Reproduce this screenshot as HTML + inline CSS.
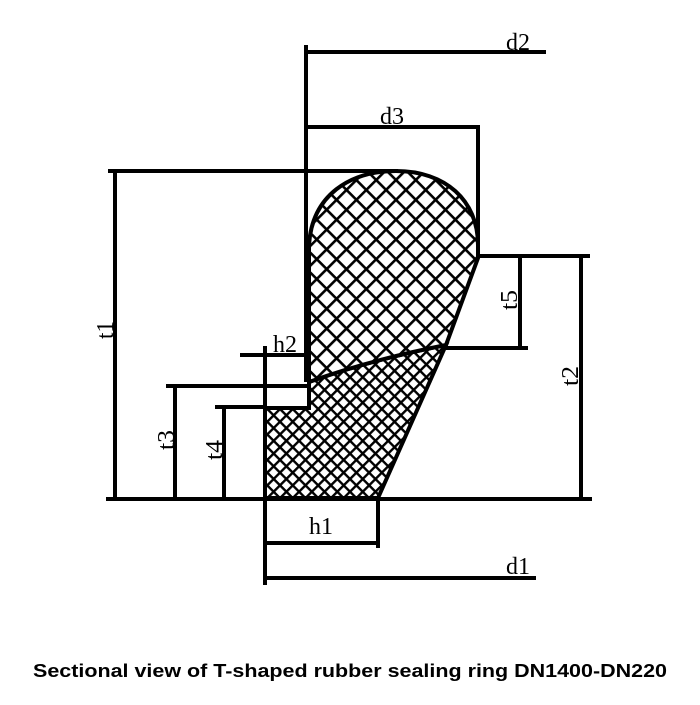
<!DOCTYPE html>
<html><head><style>
body{margin:0;background:#fff;width:700px;height:700px;overflow:hidden}
text{font-family:"Liberation Serif",serif;font-size:24px;fill:#000}
</style></head><body>
<svg width="700" height="700" viewBox="0 0 700 700">
<defs>
<pattern id="p1" width="14" height="14" patternUnits="userSpaceOnUse" patternTransform="rotate(45)">
<rect width="14" height="14" fill="#fff"/><rect x="0" y="0" width="14" height="2.6" fill="#000"/><rect x="0" y="0" width="2.6" height="14" fill="#000"/></pattern>
<pattern id="p2" width="9" height="9" patternUnits="userSpaceOnUse" patternTransform="rotate(45)">
<rect width="9" height="9" fill="#fff"/><rect x="0" y="0" width="9" height="2.4" fill="#000"/><rect x="0" y="0" width="2.4" height="9" fill="#000"/></pattern>
</defs>
<g stroke="#000" stroke-width="4" fill="none">
<path d="M265,498 L265,408 L309,408 L309,382 Q370,360 446,345 L378,498 Z" fill="url(#p2)"/>
<path d="M309,382 L309,245 C312,195 350,171 396,171 C445,171 478,200 478,245 L478,258 L446,345 Q370,360 309,382 Z" fill="url(#p1)"/>
<line x1="306" y1="45" x2="306" y2="382"/>
<line x1="108" y1="171" x2="398" y2="171"/>
<line x1="106" y1="499" x2="592" y2="499"/>
<line x1="306" y1="52" x2="546" y2="52"/>
<line x1="306" y1="127" x2="480" y2="127"/>
<line x1="478" y1="127" x2="478" y2="256"/>
<line x1="115" y1="171" x2="115" y2="499"/>
<line x1="478" y1="256" x2="590" y2="256"/>
<line x1="581" y1="256" x2="581" y2="499"/>
<line x1="446" y1="348" x2="528" y2="348"/>
<line x1="520" y1="256" x2="520" y2="348"/>
<line x1="240" y1="355" x2="309" y2="355"/>
<line x1="265" y1="346" x2="265" y2="585"/>
<line x1="166" y1="386" x2="309" y2="386"/>
<line x1="175" y1="386" x2="175" y2="499"/>
<line x1="215" y1="407" x2="265" y2="407"/>
<line x1="224" y1="407" x2="224" y2="499"/>
<line x1="378" y1="499" x2="378" y2="548"/>
<line x1="265" y1="543" x2="380" y2="543"/>
<line x1="265" y1="578" x2="536" y2="578"/>
</g>
<text x="506" y="50" textLength="24" lengthAdjust="spacingAndGlyphs">d2</text>
<text x="380" y="124" textLength="24" lengthAdjust="spacingAndGlyphs">d3</text>
<text x="273" y="352" textLength="24" lengthAdjust="spacingAndGlyphs">h2</text>
<text x="309" y="534" textLength="24" lengthAdjust="spacingAndGlyphs">h1</text>
<text x="506" y="574" textLength="24" lengthAdjust="spacingAndGlyphs">d1</text>
<text transform="translate(113,330) rotate(-90)" x="-9" textLength="18" lengthAdjust="spacingAndGlyphs">t1</text>
<text transform="translate(174,440) rotate(-90)" x="-10" textLength="20" lengthAdjust="spacingAndGlyphs">t3</text>
<text transform="translate(222,450) rotate(-90)" x="-10" textLength="20" lengthAdjust="spacingAndGlyphs">t4</text>
<text transform="translate(517,300) rotate(-90)" x="-10" textLength="20" lengthAdjust="spacingAndGlyphs">t5</text>
<text transform="translate(578,376) rotate(-90)" x="-10" textLength="20" lengthAdjust="spacingAndGlyphs">t2</text>
<text x="350" y="677" text-anchor="middle" style="font-family:'Liberation Sans',sans-serif;font-weight:bold;font-size:18px" textLength="634" lengthAdjust="spacingAndGlyphs">Sectional view of T-shaped rubber sealing ring DN1400-DN220</text>
</svg>
</body></html>
